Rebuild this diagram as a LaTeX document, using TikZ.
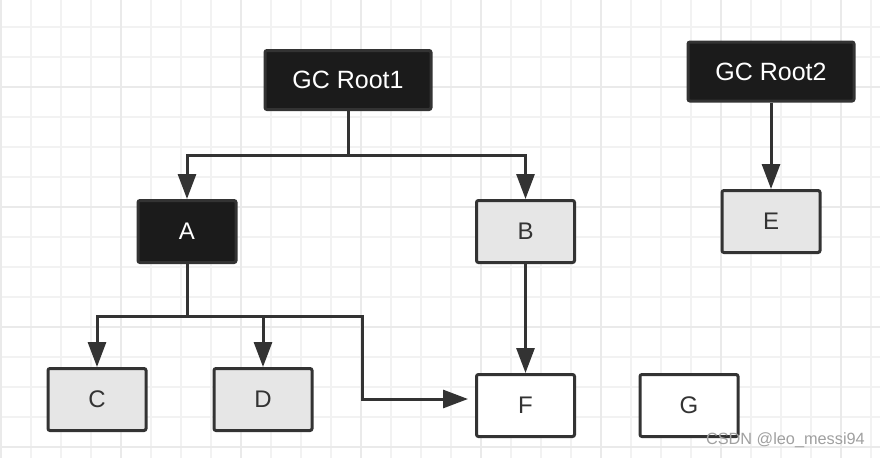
\documentclass[tikz,border=0pt]{standalone}
\usepackage{fontspec}
\setmainfont{Liberation Sans}
\usetikzlibrary{arrows.meta}
\definecolor{darkfill}{HTML}{1B1B1B}
\definecolor{linec}{HTML}{333333}
\definecolor{lightfill}{HTML}{E6E6E6}
\definecolor{gridthin}{HTML}{F2F2F2}
\definecolor{gridthick}{HTML}{EAEAEA}
\definecolor{wmark}{HTML}{A0A0A0}
\tikzset{
  box/.style={draw=linec, line width=3pt, rounded corners=2pt, inner sep=0pt,
    minimum width=98pt, minimum height=62pt, text=linec,
    font=\fontsize{24}{28}\selectfont},
  rootbox/.style={box, fill=darkfill, text=white, minimum width=166pt, minimum height=59pt},
  darkbox/.style={box, fill=darkfill, text=white},
  greybox/.style={box, fill=lightfill},
  whitebox/.style={box, fill=white},
  conn/.style={draw=linec, line width=3pt},
  arrow/.style={conn, -{Triangle[length=25pt,width=18pt]}},
  gthin/.style={draw=gridthin, line width=1.5pt},
  gthick/.style={draw=gridthick, line width=2pt}
}
\begin{document}
\begin{tikzpicture}[x=1pt,y=-1pt]
\useasboundingbox (0,0) rectangle (880,458);
\fill[white] (0,0) rectangle (880,458);
% grid
\foreach \i in {0,...,29} {\draw[gthin] ({1+30*\i},0) -- ({1+30*\i},458);}
\foreach \j in {0,...,15} {\draw[gthin] (0,{-3+30*\j}) -- (880,{-3+30*\j});}
\foreach \i in {0,...,7} {\draw[gthick] ({1+120*\i},0) -- ({1+120*\i},458);}
\foreach \j in {0,...,3} {\draw[gthick] (0,{87+120*\j}) -- (880,{87+120*\j});}
% nodes
\node[rootbox, font=\fontsize{25}{29}\selectfont] (r1) at (348,80) {GC Root1};
\node[rootbox, font=\fontsize{25}{29}\selectfont] (r2) at (771,71.5) {GC Root2};
\node[darkbox] (a) at (187,231.5) {A};
\node[greybox] (b) at (525.5,231.5) {B};
\node[greybox] (e) at (771,221.5) {E};
\node[greybox] (c) at (97,399.5) {C};
\node[greybox] (d) at (263,399.5) {D};
\node[whitebox] (f) at (525.5,405.5) {F};
\node[whitebox] (g) at (689,405.5) {G};
% junctions
\coordinate (j1) at (348,155);
\coordinate (ja) at (187,316);
\coordinate (bend) at (362,399);
\coordinate (fin) at (468,399);
% connectors
\draw[conn] (r1.south) -- (j1);
\draw[arrow] (j1) -| (a.north);
\draw[arrow] (j1) -| (b.north);
\draw[arrow] (r2.south) -- (e.north);
\draw[arrow] (b.south) -- (f.north);
\draw[conn] (a.south) -- (ja);
\draw[arrow] (ja) -| (c.north);
\draw[arrow] (ja) -| (d.north);
\draw[arrow] (ja) -| (bend) -- (fin);
% watermark
\node[text=wmark, font=\fontsize{16.3}{19}\selectfont, anchor=east, inner sep=0pt] (wm) at (865,440) {CSDN @leo\_messi94};
\end{tikzpicture}
\end{document}
